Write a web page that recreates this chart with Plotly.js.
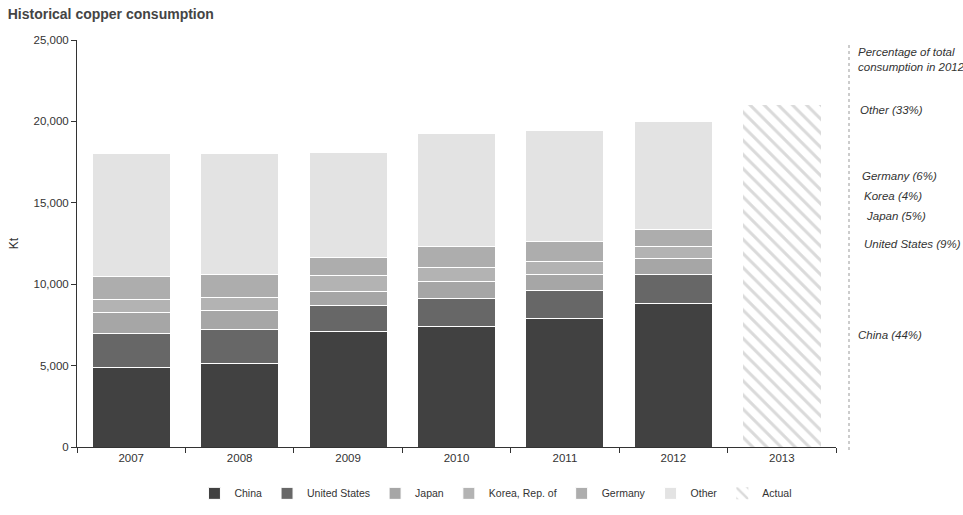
<!DOCTYPE html>
<html>
<head>
<meta charset="utf-8">
<script src="https://cdn.plot.ly/plotly-3.0.1.min.js"></script>
<style>html,body{margin:0;padding:0;background:#fff;}#chart{width:963px;height:515px;}</style>
</head>
<body>
<div id="chart"></div>
<script>
const years = ["2007", "2008", "2009", "2010", "2011", "2012"];
const actualYears = ["2013"];
const china = [4900, 5160, 7120, 7410, 7900, 8820];
const unitedStates = [2090, 2030, 1580, 1720, 1720, 1790];
const japan = [1250, 1170, 880, 1060, 1000, 980];
const korea = [840, 800, 960, 860, 800, 700];
const germany = [1410, 1410, 1070, 1290, 1210, 1100];
const other = [7560, 7480, 6450, 6890, 6800, 6630];
const actual = [21000];

const seriesNames = ["China", "United States", "Japan", "Korea, Rep. of", "Germany", "Other"];
const seriesValues = [china, unitedStates, japan, korea, germany, other];
const seriesColors = ["#414141", "#676767", "#a6a6a6", "#b3b3b3", "#adadad", "#e3e3e3"];

const shareLabels = ["Percentage of total<br>consumption in 2012", "Other (33%)", "Germany (6%)", "Korea (4%)", "Japan (5%)", "United States (9%)", "China (44%)"];

const allCats = years.concat(actualYears);

const traces = seriesNames.map((n, i) => ({
  type: "bar",
  name: n,
  x: years,
  y: seriesValues[i],
  marker: {color: seriesColors[i], line: {color: "#ffffff", width: 1}},
  hoverinfo: "x+y+name"
}));
traces.push({
  type: "bar",
  name: "Actual",
  x: actualYears,
  y: actual,
  marker: {
    color: "#ffffff",
    line: {color: "#ffffff", width: 0},
    pattern: {shape: "\\", fgcolor: "#dadada", bgcolor: "#ffffff", size: 10, solidity: 0.3}
  }
});

const L = 77, R = 836, T = 40, B = 447;
const px = x => (x - L) / (R - L);
const py = y => (B - y) / (B - T);

const annPos = [[856, 60], [858, 110], [860, 176], [862, 196], [864, 216], [862, 244], [856, 335]];
const annotations = shareLabels.map((t, i) => ({
  text: "<i>" + t + "</i>", xref: "paper", yref: "paper",
  x: px(annPos[i][0]), y: py(annPos[i][1]),
  xanchor: "left", yanchor: "middle", align: "left", showarrow: false,
  font: {family: "Liberation Sans, Arial, sans-serif", size: 11.5, color: "#333"}
}));

const layout = {
  width: 963, height: 515,
  margin: {l: L, r: 963 - R, t: T, b: 515 - B},
  paper_bgcolor: "#ffffff", plot_bgcolor: "#ffffff",
  barmode: "stack", bargap: 0.28,
  font: {family: "Liberation Sans, Arial, sans-serif", size: 11.5, color: "#333"},
  title: {text: "<b>Historical copper consumption</b>", x: 0.008, xref: "container", xanchor: "left", y: 0.972, yref: "container", yanchor: "middle",
          font: {family: "Liberation Sans, Arial, sans-serif", size: 14, color: "#444"}},
  xaxis: {type: "category", categoryorder: "array", categoryarray: allCats, range: [-0.5, 6.5],
          showline: true, linecolor: "#333", linewidth: 1, ticks: "outside", tickcolor: "#333", ticklen: 5,
          tickson: "boundaries", showgrid: false, zeroline: false, fixedrange: true},
  yaxis: {range: [0, 25000], dtick: 5000, tickformat: ",", showline: true, linecolor: "#333", linewidth: 1,
          ticks: "outside", tickcolor: "#333", ticklen: 5, showgrid: false, zeroline: false,
          title: {text: "Kt", standoff: 12, font: {size: 12, color: "#333"}}},
  legend: {orientation: "h", xref: "container", yref: "container", x: 0.515, xanchor: "center", y: 0.042, yanchor: "middle",
           traceorder: "normal", itemwidth: 30, font: {size: 10.5, color: "#333"}},
  shapes: [{type: "line", xref: "paper", yref: "paper", x0: px(849), x1: px(849), y0: py(45), y1: py(452),
            line: {color: "#999", width: 1, dash: "dot"}}],
  annotations: annotations
};

Plotly.newPlot("chart", traces, layout, {displayModeBar: false, staticPlot: true});
</script>
</body>
</html>
